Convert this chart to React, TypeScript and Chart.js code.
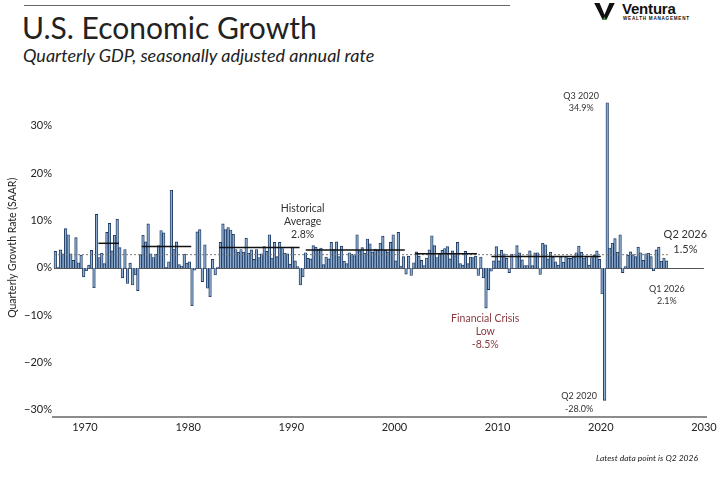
import React, { useEffect, useRef } from "react";
import { Chart, registerables } from "chart.js";

Chart.register(...registerables);

// ---- Data (quarterly real GDP growth, SAAR, %) ----
const FIRST_YEAR = 1967; // first bar = Q1 1967
const growth1967to1979 = [
  3.5, 0.2, 3.8, 3.0,
  8.3, 7.0, 3.0, 1.6,
  6.4, 1.1, 2.7, -1.9,
  -0.6, 0.6, 3.7, -4.2,
  11.3, 2.2, 3.1, 0.9,
  7.5, 9.4, 3.6, 6.9,
  10.3, 4.3, -2.1, 3.9,
  -3.3, 1.0, -3.6, -1.5,
  -4.8, 2.8, 6.9, 5.5,
  9.3, 3.0, 2.2, 2.9,
  4.7, 7.9, 7.4, 0.1,
  1.3, 16.4, 4.0, 5.5,
  0.7, 0.4, 2.9, 1.0,
];
const growth1980to1989 = [
  1.3, -8.0, -0.5, 7.6,
  8.1, -2.9, 4.9, -4.3,
  -6.1, 1.8, -1.5, 0.2,
  5.4, 9.3, 8.1, 8.5,
  8.0, 7.1, 3.9, 3.3,
  3.9, 3.3, 6.3, 3.1,
  3.8, 1.8, 3.9, 2.2,
  3.0, 4.5, 3.5, 7.0,
  2.1, 5.4, 2.4, 5.4,
  4.1, 3.1, 3.0, 0.8,
];
const growth1990to1999 = [
  4.4, 1.5, 0.3, -3.6,
  -1.9, 3.2, 2.0, 1.9,
  4.7, 4.4, 4.0, 4.2,
  0.7, 2.3, 1.9, 5.4,
  3.9, 5.5, 2.4, 4.6,
  1.4, 0.9, 3.2, 2.9,
  2.6, 7.0, 3.6, 4.3,
  3.1, 6.1, 5.1, 3.4,
  4.0, 3.8, 5.2, 6.7,
  3.7, 3.4, 5.4, 7.0,
];
const growth2000to2009 = [
  1.5, 7.5, 0.4, 2.4,
  -1.3, 2.5, -1.6, 1.1,
  3.4, 2.5, 1.6, 0.5,
  2.1, 3.8, 6.8, 4.7,
  2.2, 3.0, 3.7, 4.1,
  4.5, 1.9, 3.6, 2.6,
  5.4, 0.9, 0.6, 3.5,
  0.9, 2.3, 2.2, 2.5,
  -1.6, 2.3, -2.1, -8.5,
  -4.6, -0.7, 1.5, 4.5,
];
const growth2010to2019 = [
  1.5, 3.7, 3.0, 2.0,
  -1.0, 2.9, -0.1, 4.7,
  3.2, 1.7, 0.5, 0.5,
  3.6, 0.5, 3.2, 3.2,
  -1.4, 5.2, 4.9, 1.9,
  3.3, 2.3, 1.3, 0.6,
  2.4, 1.2, 2.4, 2.0,
  2.0, 2.3, 3.2, 4.6,
  3.3, 2.1, 2.5, 0.6,
  2.2, 2.7, 3.6, 1.8,
];
const growth2020to2026 = [
  -5.5, -28.0, 34.9, 4.2,
  5.2, 6.2, 3.3, 7.0,
  -1.0, 0.3, 2.7, 3.4,
  2.8, 2.4, 4.4, 3.2,
  1.6, 3.0, 3.1, 2.4,
  -0.6, 3.8, 4.4, 1.4,
  2.1, 1.5,
];

// Expansion-period averages (black segments)
const expansionStarts = [1971.3, 1975.5, 1983.0, 1991.4, 2002.0, 2009.4];
const expansionEnds = [1973.3, 1980.3, 1990.8, 2001.0, 2008.0, 2020.0];
const expansionAverages = [5.2, 4.5, 4.3, 3.8, 3.0, 2.4];

// Historical average (dotted)
const historicalAverage = 2.8;
const historicalRange = [1967.0, 2026.5];

const xTickValues = [1970, 1980, 1990, 2000, 2010, 2020, 2030];
const yTickValues = [-30, -20, -10, 0, 10, 20, 30];

const annotationLines = [
  ["Historical", "Average", "2.8%"],
  ["Q3 2020", "34.9%"],
  ["Q2 2020", "-28.0%"],
  ["Financial Crisis", "Low", "-8.5%"],
  ["Q2 2026", "1.5%"],
  ["Q1 2026", "2.1%"],
];
// anchor (x in years, y in %) of first line centre
const annotationX = [1991.1, 2018.1, 2017.9, 2008.8, 2028.2, 2026.4];
const annotationY = [12.6, 36.3, -27.1, -10.8, 7.0, -4.4];

const allGrowth = [
  ...growth1967to1979,
  ...growth1980to1989,
  ...growth1990to1999,
  ...growth2000to2009,
  ...growth2010to2019,
  ...growth2020to2026,
];

const FONT = "Lato, 'Open Sans', sans-serif";

export default function App() {
  const ref = useRef<HTMLCanvasElement>(null);

  useEffect(() => {
    const canvas = ref.current!;
    const points = allGrowth.map((v, i) => ({ x: FIRST_YEAR + i / 4 + 0.125, y: v }));

    const annStyles = [
      { size: 10.5, color: "#333333", gap: 13 },
      { size: 9, color: "#333333", gap: 12 },
      { size: 9, color: "#333333", gap: 12.5 },
      { size: 10.5, color: "#8a3b3f", gap: 13 },
      { size: 11, color: "#333333", gap: 14.5 },
      { size: 9, color: "#333333", gap: 12 },
    ];

    const overlay = {
      id: "overlay",
      beforeDatasetsDraw(chart: any) {
        const { ctx, scales } = chart;
        const x = scales.x, y = scales.y;
        ctx.save();
        ctx.strokeStyle = "#555555";
        ctx.lineWidth = 1;
        ctx.beginPath();
        const y0 = Math.round(y.getPixelForValue(0)) + 0.5;
        ctx.moveTo(x.getPixelForValue(1967), y0);
        ctx.lineTo(x.getPixelForValue(2030), y0);
        ctx.stroke();
        ctx.restore();
      },
      afterDatasetsDraw(chart: any) {
        const { ctx, scales } = chart;
        const x = scales.x, y = scales.y;
        ctx.save();
        // dotted historical average
        ctx.strokeStyle = "#777777";
        ctx.lineWidth = 1;
        ctx.setLineDash([2, 2]);
        ctx.beginPath();
        const ya = y.getPixelForValue(historicalAverage);
        ctx.moveTo(x.getPixelForValue(historicalRange[0]), ya);
        ctx.lineTo(x.getPixelForValue(historicalRange[1]), ya);
        ctx.stroke();
        ctx.setLineDash([]);
        // expansion averages
        ctx.strokeStyle = "#111111";
        ctx.lineWidth = 1.5;
        expansionAverages.forEach((v, i) => {
          const py = y.getPixelForValue(v);
          ctx.beginPath();
          ctx.moveTo(x.getPixelForValue(expansionStarts[i]), py);
          ctx.lineTo(x.getPixelForValue(expansionEnds[i]), py);
          ctx.stroke();
        });
        // annotations
        ctx.textAlign = "center";
        ctx.textBaseline = "middle";
        annotationLines.forEach((lines, i) => {
          const st = annStyles[i];
          ctx.fillStyle = st.color;
          ctx.font = `${st.size}px ${FONT}`;
          const px = x.getPixelForValue(annotationX[i]);
          const py = y.getPixelForValue(annotationY[i]);
          lines.forEach((t, j) => ctx.fillText(t, px, py + j * st.gap));
        });
        ctx.restore();
      },
    };

    const chart = new Chart(canvas, {
      type: "bar",
      data: {
        datasets: [
          {
            data: points as any,
            backgroundColor: "#8eaed2",
            borderColor: "#1d3860",
            borderWidth: 0.9,
            barPercentage: 1,
            categoryPercentage: 1,
          },
        ],
      },
      options: {
        responsive: false,
        animation: false,
        layout: { padding: { left: 0, right: 15, top: 0, bottom: 0 } },
        plugins: { legend: { display: false }, tooltip: { enabled: false } },
        scales: {
          x: {
            type: "linear",
            offset: false,
            min: 1966.9,
            max: 2030.2,
            afterBuildTicks: (s: any) => {
              s.ticks = xTickValues.map((v) => ({ value: v }));
            },
            afterFit: (s: any) => {
              s.height = 40;
            },
            grid: { display: false, drawTicks: false },
            border: { display: true, color: "#8c8c8c", width: 2 },
            ticks: {
              color: "#222222",
              font: { family: FONT, size: 11 },
              padding: 4,
              maxRotation: 0,
              autoSkip: false,
              callback: (v: any) => String(v),
            },
          },
          y: {
            min: -31.5,
            max: 40,
            afterBuildTicks: (s: any) => {
              s.ticks = yTickValues.map((v) => ({ value: v }));
            },
            afterFit: (s: any) => {
              s.width = 53;
            },
            grid: { display: false, drawTicks: false },
            border: { display: false },
            ticks: {
              color: "#222222",
              font: { family: FONT, size: 11 },
              padding: 1,
              callback: (v: any) => (v < 0 ? "\u2212" : "") + Math.abs(v) + "%",
            },
            title: {
              display: true,
              text: "Quarterly Growth Rate (SAAR)",
              color: "#222222",
              font: { family: FONT, size: 10.5 },
              padding: { top: 6, bottom: 0 },
            },
          },
        },
      },
      plugins: [overlay],
    });
    return () => chart.destroy();
  }, []);

  return (
    <div
      style={{
        position: "fixed",
        left: 0,
        top: 0,
        width: 721,
        height: 478,
        background: "#ffffff",
        overflow: "hidden",
        fontFamily: FONT,
      }}
    >
      <div style={{ position: "absolute", left: 24, top: 5, width: 486, height: 1, background: "#666" }} />
      <div
        style={{
          position: "absolute",
          left: 22,
          top: 8,
          fontSize: 30,
          lineHeight: "38px",
          color: "#222",
          whiteSpace: "nowrap",
        }}
      >
        U.S. Economic Growth
      </div>
      <div
        style={{
          position: "absolute",
          left: 23,
          top: 44,
          fontSize: 18,
          fontStyle: "italic",
          lineHeight: "22px",
          color: "#222",
          whiteSpace: "nowrap",
        }}
      >
        Quarterly GDP, seasonally adjusted annual rate
      </div>
      {/* logo */}
      <svg style={{ position: "absolute", left: 593, top: 3 }} width={23} height={17} viewBox="0 0 23 19">
        <polygon points="0,0 6,0 11.5,13 17,0 23,0 13.5,19 9.5,19" fill="#111" />
        <polygon points="9.5,19 13.5,19 11.5,15" fill="#3a9a3a" />
      </svg>
      <div
        style={{
          position: "absolute",
          left: 622,
          top: 0,
          fontSize: 15,
          fontWeight: 700,
          lineHeight: "17px",
          color: "#111",
          fontFamily: "'Liberation Sans', Arial, sans-serif",
          letterSpacing: -0.2,
        }}
      >
        Ventura
      </div>
      <div
        style={{
          position: "absolute",
          left: 623,
          top: 16,
          fontSize: 4.6,
          fontWeight: 700,
          lineHeight: "6px",
          color: "#111",
          whiteSpace: "nowrap",
          fontFamily: "'Liberation Sans', Arial, sans-serif",
          letterSpacing: 0.75,
        }}
      >
        WEALTH MANAGEMENT
      </div>
      <canvas
        ref={ref}
        width={721}
        height={386}
        style={{ position: "absolute", left: 0, top: 71, width: 721, height: 386 }}
      />
      <div
        style={{
          position: "absolute",
          right: 23,
          top: 452,
          fontSize: 8.5,
          fontStyle: "italic",
          color: "#222",
          whiteSpace: "nowrap",
          lineHeight: "12px",
        }}
      >
        Latest data point is Q2 2026
      </div>
    </div>
  );
}
